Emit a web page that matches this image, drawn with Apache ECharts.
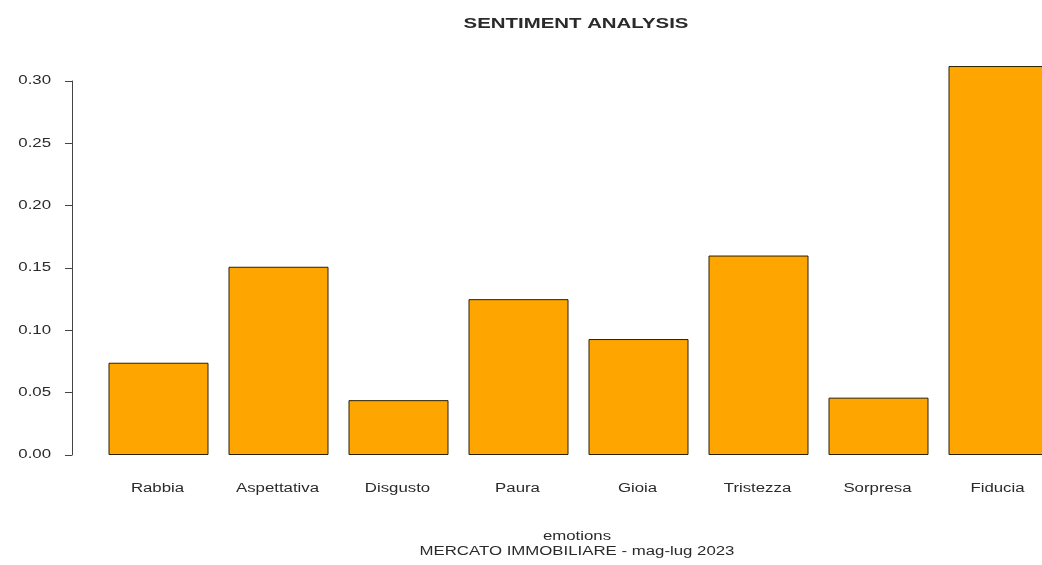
<!DOCTYPE html>
<html>
<head>
<meta charset="utf-8">
<script src="https://cdn.jsdelivr.net/npm/echarts@6/dist/echarts.min.js"></script>
<style>
  html, body { margin: 0; padding: 0; background: #fff; }
  #chart { width: 1042px; height: 565px; }
</style>
</head>
<body>
<div id="chart"></div>
<script>
// Emotion shares from the sentiment scoring of real-estate market news
const emotions = ['Rabbia', 'Aspettativa', 'Disgusto', 'Paura', 'Gioia', 'Tristezza', 'Sorpresa', 'Fiducia'];
const shares = [0.074, 0.151, 0.044, 0.125, 0.093, 0.160, 0.046, 0.312];
const yTicks = [0, 0.05, 0.10, 0.15, 0.20, 0.25, 0.30];

const chartTitle = 'SENTIMENT ANALYSIS';
const xName = 'emotions';
const subTitle = 'MERCATO IMMOBILIARE - mag-lug 2023';

const FONT = '"Liberation Sans", Arial, Helvetica, sans-serif';
const TEXT_COLOR = '#2a2a2a';
const WIDE = 1.4;          // horizontally widened lettering
const GRID_LEFT = 98.5;
const Y_OFFSET = 26.5;     // y axis sits left of the first bar's band

const chart = echarts.init(document.getElementById('chart'), null, { renderer: 'canvas' });

chart.setOption({
  backgroundColor: '#ffffff',
  animation: false,
  grid: {
    left: GRID_LEFT, right: -16.5, top: 81, bottom: 110,
    containLabel: false, outerBoundsMode: 'none'
  },
  xAxis: {
    type: 'category',
    data: emotions,
    boundaryGap: true,
    axisLine: { show: false },
    axisTick: { show: false },
    axisLabel: { show: false },
    splitLine: { show: false }
  },
  yAxis: {
    type: 'value',
    min: yTicks[0],
    max: yTicks[yTicks.length - 1],
    interval: 0.05,
    offset: Y_OFFSET,
    axisLine: { show: true, lineStyle: { color: '#444', width: 1 } },
    axisTick: { show: true, inside: false, length: 7, lineStyle: { color: '#444', width: 1 } },
    axisLabel: { show: false },
    splitLine: { show: false }
  },
  series: [{
    type: 'bar',
    data: shares,
    barWidth: 100,
    clip: false,
    itemStyle: { color: '#FFA500', borderColor: '#2a2000', borderWidth: 1 }
  }]
});

// Text is laid out with the chart's own scales so it follows the axes.
function wideText(x, y, text, align, size, weight, sx) {
  return {
    type: 'text', x: x, y: y, scaleX: sx, silent: true,
    style: {
      text: text, fill: TEXT_COLOR, font: (weight || 'normal') + ' ' + size + 'px ' + FONT,
      textAlign: align, textVerticalAlign: 'middle'
    }
  };
}

const texts = [];
const axisX = GRID_LEFT - Y_OFFSET;
yTicks.forEach(v => {
  const py = chart.convertToPixel({ yAxisIndex: 0 }, v);
  texts.push(wideText(axisX - 21, py, v.toFixed(2), 'right', 12, 'normal', WIDE));
});
emotions.forEach(name => {
  const px = chart.convertToPixel({ xAxisIndex: 0 }, name);
  texts.push(wideText(px - 1, 489, name, 'center', 12, 'normal', WIDE));
});
texts.push(wideText(576, 24, chartTitle, 'center', 15, 'bold', 1.36));
texts.push(wideText(577, 537, xName, 'center', 12, 'normal', WIDE));
texts.push(wideText(577, 552, subTitle, 'center', 12, 'normal', WIDE));

chart.setOption({ graphic: { elements: texts } });
</script>
</body>
</html>
